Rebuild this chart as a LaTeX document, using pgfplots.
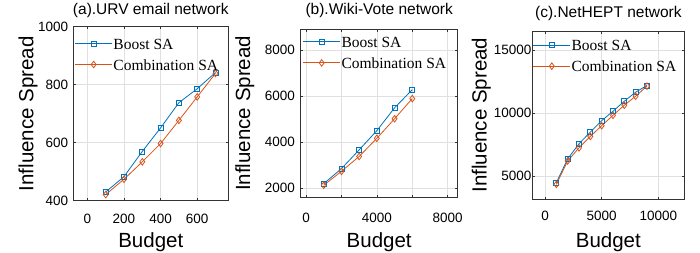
\documentclass[border=0pt]{standalone}
\usepackage{pgfplots}
\pgfplotsset{compat=1.18}
\usepackage{fontspec}
\setmainfont{Liberation Sans}
\newfontfamily\legfont{Liberation Serif}
\definecolor{mblue}{rgb}{0,0.447,0.741}
\definecolor{morange}{rgb}{0.85,0.325,0.098}
\pgfplotsset{
 panel/.style={scale only axis, anchor=south west,
  axis line style={draw=black!80, line width=0.5pt},
  tick align=inside, major tick length=2.5pt,
  tick style={draw=black!80, line width=0.5pt},
  xmajorgrids, ymajorgrids, major grid style={draw=black!12, line width=0.5pt},
  ticklabel style={font=\fontsize{13.5}{14}\selectfont},
  /pgf/number format/assume math mode=true,
  /pgf/number format/set thousands separator={},
  scaled ticks=false,
  xlabel=Budget, ylabel=Influence Spread,
  label style={font=\fontsize{20.5}{22}\selectfont},
  title style={font=\fontsize{15.5}{17}\selectfont, at={(axis description cs:0.5,1)}, anchor=base},
  yticklabel style={anchor=east, inner xsep=0pt},
  xticklabel style={anchor=base},
  xlabel style={at={(axis description cs:0.5,0)}, anchor=base},
  legend style={draw=none, fill=none, at={(axis description cs:0,1)}, anchor=north west,
   inner sep=0pt, row sep=0pt, column sep=0.9pt,
   font=\legfont\fontsize{15.5}{17}\selectfont,
   nodes={inner sep=0pt, text height=10.5pt, text depth=10.5pt}},
  legend cell align=left,
  legend image code/.code={\draw[mark repeat=2,mark phase=2] plot coordinates {(0pt,5.5pt) (18.5pt,5.5pt) (37pt,5.5pt)};}
 },
 boost/.style={color=mblue, line width=0.8pt, mark=square, mark size=2.5pt, mark options={solid}},
 comb/.style={color=morange, line width=0.8pt, mark=diamond, mark size=3.3pt, mark options={solid}},
}
\begin{document}
\begin{tikzpicture}
\useasboundingbox (0,0) rectangle (700pt,252pt);
% (a)
\begin{axis}[panel, at={(73.3pt,51.3pt)}, width=155pt, height=174pt,
 xmin=-77, xmax=770, ymin=400, ymax=1000,
 xtick={0,200,400,600}, xticklabels={0,200,400,600}, ytick={400,600,800,1000},
 title={(a).URV email network}, title style={yshift=6pt},
 xticklabel style={yshift=-22.6pt}, yticklabel style={xshift=-5pt},
 xlabel style={yshift=-46.3pt},
 ylabel style={at={([xshift=-40pt]axis description cs:0,0.5)}, anchor=base},
 legend style={xshift=1.3pt, yshift=-11.6pt}]
\addplot[boost] coordinates {(100,430) (200,483) (300,570) (400,651) (500,738) (600,786) (700,842)};
\addlegendentry{Boost SA}
\addplot[comb] coordinates {(100,421) (200,474) (300,534) (400,597) (500,677) (600,758) (700,839)};
\addlegendentry{Combination SA}
\end{axis}
% (b)
\begin{axis}[panel, at={(300.7pt,54.7pt)}, width=157pt, height=168pt,
 xmin=-300, xmax=8565, ymin=1590, ymax=8900,
 xtick={0,2000,4000,6000,8000}, xticklabels={0,,4000,,8000}, ytick={2000,4000,6000,8000},
 title={(b).Wiki-Vote network}, title style={yshift=8.6pt},
 xticklabel style={yshift=-25.6pt}, yticklabel style={xshift=-5.7pt},
 xlabel style={yshift=-49.7pt},
 ylabel style={at={([xshift=-50.7pt]axis description cs:0,0.5)}, anchor=base},
 legend style={xshift=1.9pt, yshift=-7.4pt}]
\addplot[boost] coordinates {(1000,2187) (2000,2835) (3000,3655) (4000,4490) (5000,5482) (6000,6273)};
\addlegendentry{Boost SA}
\addplot[comb] coordinates {(1000,2115) (2000,2720) (3000,3367) (4000,4158) (5000,5007) (6000,5885)};
\addlegendentry{Combination SA}
\end{axis}
% (c)
\begin{axis}[panel, at={(532.7pt,52.7pt)}, width=151.3pt, height=168.3pt,
 xmin=-1085, xmax=12266, ymin=3150, ymax=16500,
 xtick={0,5000,10000}, ytick={5000,10000,15000},
 title={(c).NetHEPT network}, title style={yshift=7.7pt},
 xticklabel style={yshift=-21.4pt}, yticklabel style={xshift=-1pt},
 xlabel style={yshift=-47.7pt},
 ylabel style={at={([xshift=-46pt]axis description cs:0,0.5)}, anchor=base},
 legend style={xshift=0pt, yshift=-9pt}]
\addplot[boost] coordinates {(1000,4468) (2000,6356) (3000,7553) (4000,8484) (5000,9388) (6000,10133) (7000,10931) (8000,11649) (9000,12181)};
\addlegendentry{Boost SA}
\addplot[comb] coordinates {(1000,4335) (2000,6197) (3000,7234) (4000,8138) (5000,8989) (6000,9814) (7000,10612) (8000,11330) (9000,12128)};
\addlegendentry{Combination SA}
\end{axis}
\end{tikzpicture}
\end{document}
